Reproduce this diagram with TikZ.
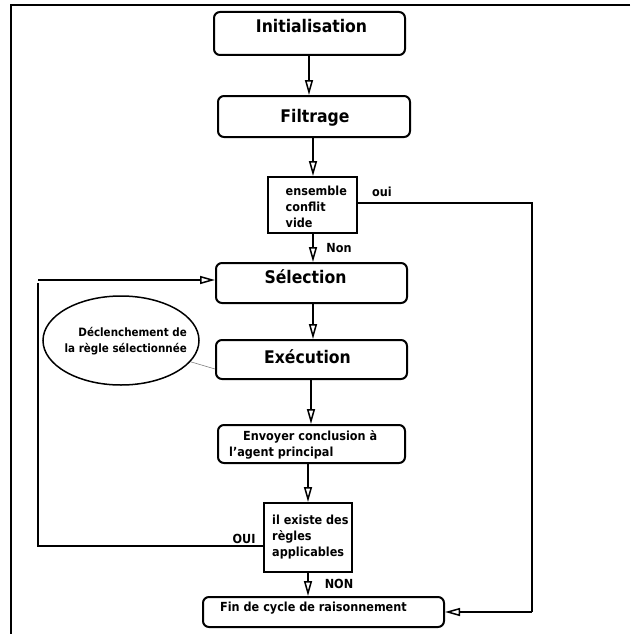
\documentclass[tikz,border=0pt]{standalone}
\usepackage{fontspec}
\setmainfont{DejaVu Sans}[FakeStretch=0.9]
\usetikzlibrary{arrows.meta,shapes.geometric}

\begin{document}
\begin{tikzpicture}[x=1pt,y=-1pt,
  box/.style={draw, line width=2pt, rounded corners=6pt, inner sep=0pt},
  decbox/.style={draw, line width=2pt, inner sep=0pt},
  bigtxt/.style={font=\fontsize{17.4}{20}\selectfont\bfseries, inner sep=0pt},
  smalltxt/.style={font=\fontsize{12.5}{16}\selectfont\bfseries, inner sep=0pt, align=left},
  flow/.style={line width=2pt, -{Triangle[open, length=15pt, width=8pt, line width=1.5pt]}},
  loopline/.style={line width=2pt},
]
\useasboundingbox (0,0) rectangle (630,634);

% outer frame (top and left sides)
\draw[line width=2pt] (630,5) -- (11,5) -- (11,634);

% process boxes
\node[box, minimum width=191pt, minimum height=43pt] (init) at (309.5,33.5) {};
\node[box, minimum width=192pt, minimum height=41pt] (filt) at (314,116.5) {};
\node[decbox, minimum width=89pt, minimum height=56pt] (dec1) at (312.5,205) {};
\node[box, minimum width=191pt, minimum height=40pt] (sel) at (311.5,283) {};
\node[box, minimum width=191pt, minimum height=39pt] (exec) at (311.5,359.5) {};
\node[box, minimum width=187pt, minimum height=38pt] (env) at (311.5,444) {};
\node[decbox, minimum width=88pt, minimum height=69pt] (dec2) at (308,537.5) {};
\node[box, minimum width=241pt, minimum height=30pt] (fin) at (323.5,612) {};
\node[draw, ellipse, line width=1.5pt, minimum width=156pt, minimum height=89pt, inner sep=0pt] (ell) at (121,340.5) {};

% box texts
\node[bigtxt, anchor=base] (tinit) at (311.5,32.7) {Initialisation};
\node[bigtxt, anchor=base] (tfilt) at (315,122) {Filtrage};
\node[bigtxt, anchor=base] (tsel) at (305.5,283) {Sélection};
\node[bigtxt, anchor=base] (texec) at (307.5,363) {Exécution};
\node[smalltxt, anchor=north west] (tdec1) at (285.5,186.2) {ensemble\\conflit\\vide};
\node[smalltxt, anchor=north west] (tenv) at (229,430) {\hspace*{14pt}Envoyer conclusion à\\l’agent principal};
\node[smalltxt, anchor=north west] (tdec2) at (272,514.5) {il existe des\\règles\\applicables};
\node[smalltxt, anchor=north west] (tfin) at (220,601.5) {Fin de cycle de raisonnement};
\node[font=\fontsize{11.5}{16}\selectfont\bfseries, inner sep=0pt, align=right, anchor=north east] (tell) at (187,327) {Déclenchement de\\la règle sélectionnée};

% branch labels
\node[smalltxt, anchor=base] (loui) at (382,196) {oui};
\node[smalltxt, anchor=base] (lnon) at (339,252) {Non};
\node[smalltxt, anchor=base] (lOUI) at (244,543) {OUI};
\node[smalltxt, anchor=base] (lNON) at (339,588) {NON};

% main flow
\draw[flow] ([xshift=-0.5pt]init.south) -- ([xshift=-0.5pt]init.south |- filt.north);
\draw[flow] ([xshift=-1pt]filt.south) -- ([xshift=-1pt]filt.south |- dec1.north);
\draw[flow] ([xshift=0.5pt]dec1.south) -- ([xshift=0.5pt]dec1.south |- sel.north);
\draw[flow] ([xshift=1.5pt]sel.south) -- ([xshift=1.5pt]sel.south |- exec.north);
\draw[flow] ([xshift=-0.5pt]exec.south) -- ([xshift=-0.5pt]exec.south |- env.north);
\draw[flow] (dec2.north |- env.south) -- (dec2.north);
\draw[flow] (dec2.south) -- (dec2.south |- fin.north);

% "oui" branch to the end of cycle
\coordinate (rcol) at (532,203);
\draw[loopline] ([yshift=2pt]dec1.east) -- (rcol) -- (rcol |- fin.east);
\draw[flow] (rcol |- fin.east) -- (fin.east);

% "OUI" branch back to selection
\coordinate (lcol) at (38,546);
\draw[loopline] ([yshift=-8.5pt]dec2.west) -- (lcol) -- (lcol |- sel.west);
\draw[flow] ([yshift=3pt]lcol |- sel.west) -- ([yshift=3pt]sel.west);

% annotation link
\draw[gray, line width=0.6pt] (ell.-17) -- ([yshift=-9.5pt]exec.west);
\end{tikzpicture}
\end{document}
